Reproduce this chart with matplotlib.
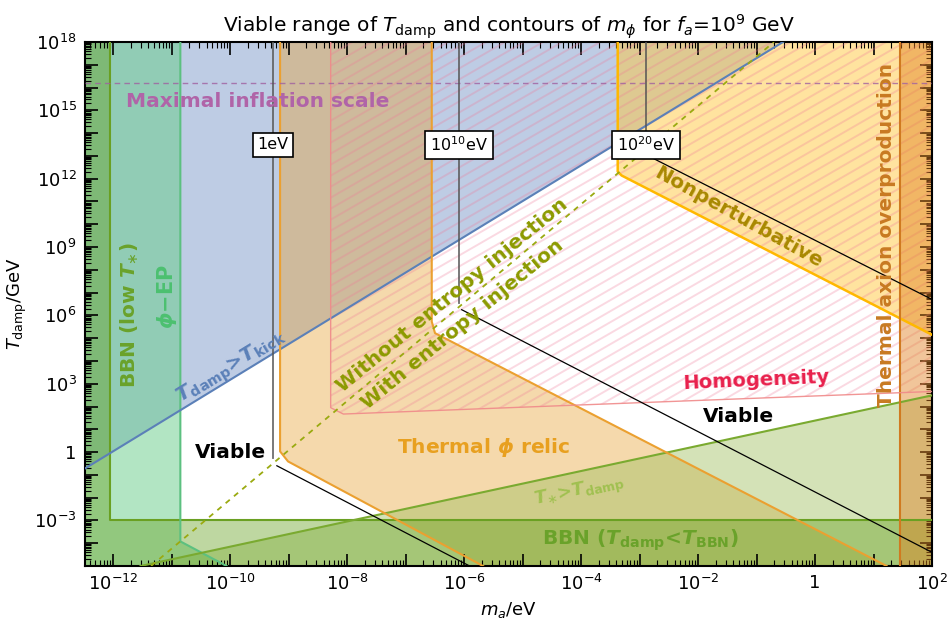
import numpy as np
import matplotlib
matplotlib.use('Agg')
import matplotlib.pyplot as plt
from matplotlib.patches import Polygon
from matplotlib.collections import LineCollection
from matplotlib.ticker import FixedLocator, FixedFormatter, LogLocator, NullFormatter

# ---------------- data (log10 m_a/eV , log10 T_damp/GeV) ----------------
xlim_log = (-12.48, 2.0)
ylim_log = (-5.0, 18.0)

bbn_logm = [-12.48, -12.05, -12.05, 2.0, 2.0, -12.48]
bbn_logT = [18.0, 18.0, -3.0, -3.0, -5.0, -5.0]
phiep_logm = [-12.48, -10.85, -10.85, -10.06, -12.48]
phiep_logT = [18.0, 18.0, -3.92, -5.0, -5.0]
kick_logm = [-12.48, -0.547]
kick_logT = [-0.72, 18.0]
tstar_logm = [-11.53, 2.0]
tstar_logT = [-5.0, 2.49]
relic_logm = [-9.145, -9.145, -9.009, -5.675, 1.224, -6.496, -6.552, -6.552]
relic_logT = [18.0, 0.03, -0.41, -5.0, -5.0, 5.22, 5.73, 18.0]
nonpert_logm = [-3.373, -3.373, -3.306, 2.0, 2.0]
nonpert_logT = [18.0, 12.31, 12.14, 5.15, 18.0]
thax_logm = [1.453, 2.0, 2.0, 1.453]
thax_logT = [18.0, 18.0, -5.0, -5.0]
homog_logm = [-8.28, -8.28, -8.063, 2.0, 2.0]
homog_logT = [18.0, 1.95, 1.67, 2.66, 18.0]
entropy_logm = [-11.351, -0.703]
entropy_logT = [-5.0, 18.0]
inflation_logT = 16.2

contour_labels = ['1eV', r'$10^{10}$eV', r'$10^{20}$eV']
contour_logm = [-9.265, -6.085, -2.89]
contour_vert_end_logT = [-0.25, 6.55, 13.2]
contour_diag_logm = [[-9.20, -5.905], [-6.04, 2.0], [-2.85, 2.0]]
contour_diag_logT = [[-0.60, -5.0], [6.25, -4.40], [13.0, 6.70]]
contour_label_logT = 13.48

xtick_logs = list(range(-12, 3))
xtick_labels = {-12: r'$10^{-12}$', -10: r'$10^{-10}$', -8: r'$10^{-8}$', -6: r'$10^{-6}$',
                -4: r'$10^{-4}$', -2: r'$10^{-2}$', 0: '1', 2: r'$10^{2}$'}
ytick_logs = list(range(-5, 19))
ytick_labels = {-3: r'$10^{-3}$', 0: '1', 3: r'$10^{3}$', 6: r'$10^{6}$', 9: r'$10^{9}$',
                12: r'$10^{12}$', 15: r'$10^{15}$', 18: r'$10^{18}$'}

# annotations: text, logm, logT, rotation, colour, size
ann_texts = ['Maximal inflation scale',
             r'BBN (low $\mathbfit{T}_{\ast}$)',
             r'$\mathbfit{\phi}$−EP',
             r'$\mathbfit{T}_{\mathbf{damp}}$>$\mathbfit{T}_{\mathbf{kick}}$',
             'Without entropy injection',
             'With entropy injection',
             'Nonperturbative',
             'Thermal axion overproduction',
             'Homogeneity',
             'Viable', 'Viable',
             r'Thermal $\mathbfit{\phi}$ relic',
             r'$\mathbfit{T}_{\ast}$>$\mathbfit{T}_{\mathbf{damp}}$',
             r'BBN ($\mathbfit{T}_{\mathbf{damp}}$<$\mathbfit{T}_{\mathbf{BBN}}$)']
ann_logm = [-9.52, -11.71, -11.09, -9.98, -6.205, -6.02, -1.316, 1.214, -1.009, -10.0, -1.316, -5.658, -4.017, -2.99]
ann_logT = [15.37, 6.03, 6.82, 3.70, 6.86, 5.59, 10.28, 9.54, 3.13, -0.03, 1.55, 0.19, -1.74, -3.89]
ann_rot = [0, 90, 90, 31.4, 39.5, 39.5, -29, 90, 2.5, 0, 0, 0, 12.2, 0]
ann_col = ['#b064a8', '#6aa22a', '#4cc070', '#5b80b8', '#8c9a00', '#8c9a00', '#a88800',
           '#c87a22', '#e8204c', 'black', 'black', '#e8a020', '#a0c050', '#6aa22a']
ann_size = [14.5, 14.5, 15, 14.5, 14.5, 14.5, 14.5, 14.5, 14, 14.5, 14.5, 14.5, 13, 14.5]

# ---------------- figure ----------------
fig = plt.figure(figsize=(9.5, 6.3), dpi=100)
ax = fig.add_axes([85/950, 1-566/630, 847/950, 524/630])
ax.set_xscale('log')
ax.set_yscale('log')
ax.set_xlim(10**xlim_log[0], 10**xlim_log[1])
ax.set_ylim(10**ylim_log[0], 10**ylim_log[1])


def P(lm, lT):
    return np.column_stack([10.0**np.asarray(lm, float), 10.0**np.asarray(lT, float)])


def region(lm, lT, fc, alpha, z):
    p = Polygon(P(lm, lT), closed=True, facecolor=fc, alpha=alpha, edgecolor='none', zorder=z)
    ax.add_patch(p)
    return p


def edge(lm, lT, **kw):
    ax.plot(10.0**np.asarray(lm, float), 10.0**np.asarray(lT, float), **kw)


xmin = xlim_log[0]
# fills
region([kick_logm[0], kick_logm[1], xmin], [kick_logT[0], kick_logT[1], 18.0], '#7f9bcb', 0.5, 1)
region(phiep_logm, phiep_logT, '#66cc88', 0.5, 1.1)
region(relic_logm, relic_logT, '#e8a030', 0.4, 1.2)
region(nonpert_logm, nonpert_logT, '#ffc840', 0.5, 1.3)
region([tstar_logm[0], tstar_logm[1], tstar_logm[1]], [tstar_logT[0], tstar_logT[1], ylim_log[0]],
       '#a0c060', 0.45, 1.4)
region(bbn_logm, bbn_logT, '#66a020', 0.42, 1.5)

# homogeneity hatch
homog_patch = region(homog_logm, homog_logT, 'none', 1, 2)
W, H = 847.0, 524.0
k = np.tan(np.deg2rad(30)) * W / H
sp = 11.0 / H
segs = [[(0, c), (1, c + k)] for c in np.arange(-k - 0.02, 1.02, sp)]
lc = LineCollection(segs, colors='#f07898', linewidths=1.4, alpha=0.28,
                    transform=ax.transAxes, zorder=2)
ax.add_collection(lc, autolim=False)
lc.set_clip_path(homog_patch)

region(thax_logm, thax_logT, '#e08020', 0.45, 2.5)

# edges
edge(bbn_logm[1:4], bbn_logT[1:4], color='#6aa022', lw=1.5, zorder=3)
edge(phiep_logm[1:4], phiep_logT[1:4], color='#5cc080', lw=1.5, zorder=3)
edge(kick_logm, kick_logT, color='#5b80b8', lw=1.5, zorder=3)
edge(tstar_logm, tstar_logT, color='#7aaa30', lw=1.5, zorder=3)
edge(relic_logm[0:4], relic_logT[0:4], color='#eba030', lw=1.5, zorder=3)
edge(relic_logm[4:8], relic_logT[4:8], color='#eba030', lw=1.5, zorder=3)
edge(nonpert_logm[0:4], nonpert_logT[0:4], color='#ffb800', lw=1.8, zorder=3)
edge(thax_logm[0::3], thax_logT[0::3], color='#d07a20', lw=1.5, zorder=3)
edge(homog_logm[0:4], homog_logT[0:4], color='#f08a8a', lw=1.0, alpha=0.9, zorder=3)
edge(entropy_logm, entropy_logT, color='#9aaa10', lw=1.3, ls=(0, (3, 3)), zorder=3.5)
edge(list(xlim_log), [inflation_logT, inflation_logT], color='#a060a0', lw=1.0,
     ls=(0, (4, 3)), alpha=0.8, zorder=3.5)

# contours of m_phi
for lab, lm, ve, dm, dT in zip(contour_labels, contour_logm, contour_vert_end_logT,
                               contour_diag_logm, contour_diag_logT):
    edge([lm, lm], [18.0, ve], color='#555555', lw=1.3, alpha=0.85, zorder=4)
    edge(dm, dT, color='black', lw=0.9, zorder=4)
    ax.text(10**lm, 10**contour_label_logT, lab, ha='center', va='center', fontsize=11.5,
            zorder=6, bbox=dict(boxstyle='square,pad=0.3', fc='white', ec='black', lw=1.2))

# annotations
for s, lm, lT, r, c, fs in zip(ann_texts, ann_logm, ann_logT, ann_rot, ann_col, ann_size):
    ax.text(10**lm, 10**lT, s, ha='center', va='center', rotation=r, rotation_mode='anchor',
            color=c, fontsize=fs, fontweight='bold', zorder=5)

# ticks
ax.xaxis.set_major_locator(FixedLocator([10.0**v for v in xtick_logs]))
ax.xaxis.set_major_formatter(FixedFormatter([xtick_labels.get(v, '') for v in xtick_logs]))
ax.yaxis.set_major_locator(FixedLocator([10.0**v for v in ytick_logs]))
ax.yaxis.set_major_formatter(FixedFormatter([ytick_labels.get(v, '') for v in ytick_logs]))
ax.xaxis.set_minor_locator(LogLocator(base=10, subs=np.arange(2, 10), numticks=100))
ax.yaxis.set_minor_locator(LogLocator(base=10, subs=np.arange(2, 10), numticks=100))
ax.xaxis.set_minor_formatter(NullFormatter())
ax.yaxis.set_minor_formatter(NullFormatter())
ax.tick_params(which='both', direction='in', top=True, right=True, labelsize=13)
ax.tick_params(which='major', length=9, width=1.2, pad=6)
ax.tick_params(which='minor', length=4, width=0.8)
for sp_ in ax.spines.values():
    sp_.set_linewidth(1.5)

ax.set_title(r'Viable range of $T_{\rm damp}$ and contours of $m_\phi$ for $f_a$=10$^9$ GeV',
             fontsize=14.5, pad=7)
ax.set_xlabel(r'$m_a$/eV', fontsize=13)
ax.set_ylabel(r'$T_{\rm damp}$/GeV', fontsize=13)

fig.savefig('out.png', dpi=100)
